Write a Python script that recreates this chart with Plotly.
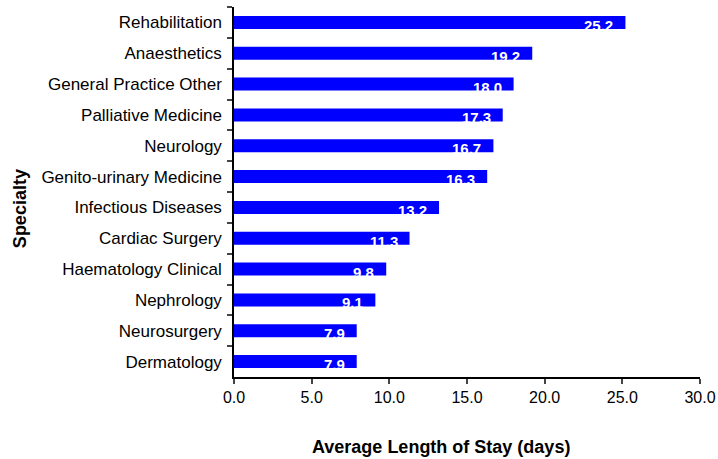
import plotly.graph_objects as go

specialties = ['Rehabilitation', 'Anaesthetics', 'General Practice Other', 'Palliative Medicine',
               'Neurology', 'Genito-urinary Medicine', 'Infectious Diseases', 'Cardiac Surgery',
               'Haematology Clinical', 'Nephrology', 'Neurosurgery', 'Dermatology']
avg_stay = [25.2, 19.2, 18.0, 17.3, 16.7, 16.3, 13.2, 11.3, 9.8, 9.1, 7.9, 7.9]
x_ticks = [0, 5, 10, 15, 20, 25, 30]

FONT = 'Liberation Sans, Arial, sans-serif'

fig = go.Figure()

fig.add_trace(go.Bar(
    x=avg_stay,
    y=specialties,
    orientation='h',
    marker_color='#0000FF',
    marker_line_width=0,
    hovertemplate="%{y}<br>%{x:.1f} days<extra></extra>"
))

# valeurs en blanc au bout des barres
for name, val in zip(specialties, avg_stay):
    fig.add_annotation(
        x=val, y=name,
        text=f"<b>{val:.1f}</b>",
        showarrow=False,
        xanchor='right',
        xshift=-10,
        yshift=-3,
        font=dict(family=FONT, size=15, color='white')
    )

# titres des axes (placés comme dans l'original, un peu décentrés)
fig.add_annotation(
    x=0.444, y=-0.189, xref='paper', yref='paper',
    text='<b>Average Length of Stay (days)</b>',
    showarrow=False, xanchor='center', yanchor='middle',
    font=dict(family=FONT, size=18, color='black')
)
fig.add_annotation(
    x=-0.459, y=0.454, xref='paper', yref='paper',
    text='<b>Specialty</b>', textangle=-90,
    showarrow=False, xanchor='center', yanchor='middle',
    font=dict(family=FONT, size=18, color='black')
)

fig.update_layout(
    width=718,
    height=459,
    margin=dict(l=234, r=18, t=7, b=82),
    plot_bgcolor='white',
    paper_bgcolor='white',
    bargap=0.58,
    showlegend=False,
    font=dict(family=FONT, size=15, color='black'),
    xaxis=dict(
        range=[0, 30],
        tickvals=x_ticks,
        tickformat='.1f',
        ticks='outside',
        ticklen=5,
        tickwidth=1.5,
        showline=True,
        linecolor='black',
        linewidth=1.5,
        showgrid=False,
        zeroline=False,
        tickfont=dict(size=16),
        automargin=False
    ),
    yaxis=dict(
        autorange='reversed',
        tickson='boundaries',
        ticks='outside',
        ticklen=5,
        tickwidth=1.5,
        showline=True,
        linecolor='black',
        linewidth=1.5,
        showgrid=False,
        ticklabelstandoff=7,
        tickfont=dict(size=17),
        automargin=False
    )
)

fig.write_html("out.html", config={'displayModeBar': False},
               post_script="document.body.style.margin='0';")
